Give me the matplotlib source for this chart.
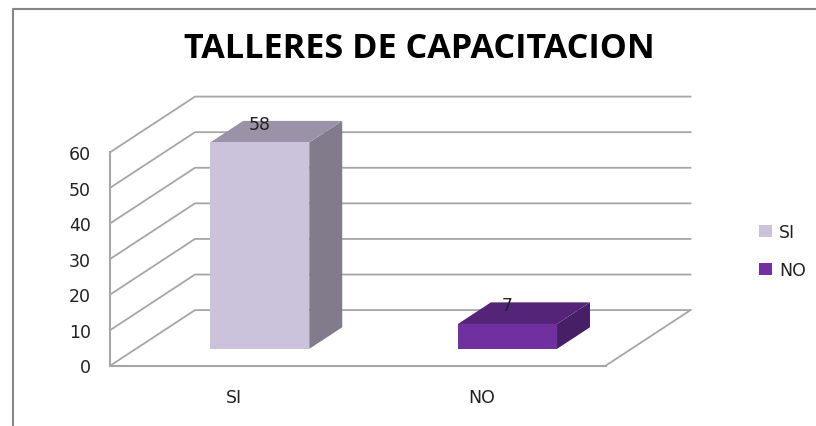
import matplotlib
matplotlib.use('Agg')
import matplotlib.pyplot as plt
from matplotlib.lines import Line2D
from matplotlib.patches import Patch, Polygon

categories = ['SI', 'NO']
values = [58, 7]
y_ticks = [0, 10, 20, 30, 40, 50, 60]
bar_colors = ['#cbc2dc', '#7030a0']
top_colors = ['#9c92a8', '#542479']
side_colors = ['#827b8c', '#471f66']

W, H = 816, 427
LEFT, RIGHT, BOTTOM, TOP = 110.5, 606, 366.5, 153

# profundidad del grafico 3D, en unidades de datos
DX = 84.5 / ((RIGHT - LEFT) / 2)
DY = 55.4 / ((BOTTOM - TOP) / 60)
BAR_W = 0.4
D0, D1 = 0.30, 0.69
GRID = '#a6a6a6'
TEXT = '#222222'


def proj(x, y, d):
    return x + d * DX, y + d * DY


def face(ax, pts, color, z):
    ax.add_patch(Polygon([proj(*p) for p in pts], closed=True, facecolor=color,
                         edgecolor='none', clip_on=False, zorder=z))


fig = plt.figure(figsize=(W / 100, H / 100), dpi=100)
ax = fig.add_axes([LEFT / W, 1 - BOTTOM / H, (RIGHT - LEFT) / W, (BOTTOM - TOP) / H])
ax.set_xlim(-0.5, 1.5)
ax.set_ylim(0, 60)
ax.patch.set_visible(False)

# marco: solo arriba y a la izquierda
fig.add_artist(Line2D([12.5 / W, 12.5 / W, 1], [0, 1 - 10 / H, 1 - 10 / H],
                      transform=fig.transFigure, color='#868686', lw=1.5))

# rejilla: pared lateral y pared del fondo
for t in y_ticks:
    xs, ys = zip(proj(-0.5, t, 0), proj(-0.5, t, 1), proj(1.5, t, 1))
    ax.plot(xs, ys, color=GRID, lw=1.3, clip_on=False, zorder=1)
# borde derecho del piso
xs, ys = zip(proj(1.5, 0, 0), proj(1.5, 0, 1))
ax.plot(xs, ys, color=GRID, lw=1.3, clip_on=False, zorder=1)

for i, (val, c, ct, cs) in enumerate(zip(values, bar_colors, top_colors, side_colors)):
    x0, x1 = i - BAR_W / 2, i + BAR_W / 2
    face(ax, [(x1, 0, D0), (x1, 0, D1), (x1, val, D1), (x1, val, D0)], cs, 3)
    face(ax, [(x0, val, D0), (x1, val, D0), (x1, val, D1), (x0, val, D1)], ct, 3)
    face(ax, [(x0, 0, D0), (x1, 0, D0), (x1, val, D0), (x0, val, D0)], c, 4)
    lx = proj(i, val, D0)[0]
    ly = proj(i, val, D1)[1]
    ax.annotate(str(val), (lx, ly), xytext=(0, -2), textcoords='offset points', ha='center', va='center',
                fontsize=12.5, color=TEXT, zorder=5, annotation_clip=False)

for s in ['top', 'right']:
    ax.spines[s].set_visible(False)
for s in ['left', 'bottom']:
    ax.spines[s].set_color(GRID)
    ax.spines[s].set_linewidth(1.5)
    ax.spines[s].set_zorder(2)

ax.set_yticks(y_ticks)
ax.set_xticks(range(len(categories)))
ax.set_xticklabels(categories)
ax.tick_params(axis='both', length=0, labelsize=12.5, labelcolor=TEXT)
ax.tick_params(axis='y', pad=14)
ax.tick_params(axis='x', pad=16)

fig.text(419.5 / W, 1 - 49 / H, 'TALLERES DE CAPACITACION', ha='center', va='center',
         fontsize=24.6, fontweight='bold', family='Open Sans', color='black')

handles = [Patch(facecolor=c, edgecolor='none', label=n) for c, n in zip(bar_colors, categories)]
fig.legend(handles=handles, loc='center left', bbox_to_anchor=(759 / W, 1 - 252 / H), frameon=False,
           fontsize=12.5, handlelength=0.75, handleheight=0.7, handletextpad=0.4,
           labelspacing=1.15, borderpad=0, borderaxespad=0, labelcolor=TEXT)

fig.savefig('out.png', dpi=100)
